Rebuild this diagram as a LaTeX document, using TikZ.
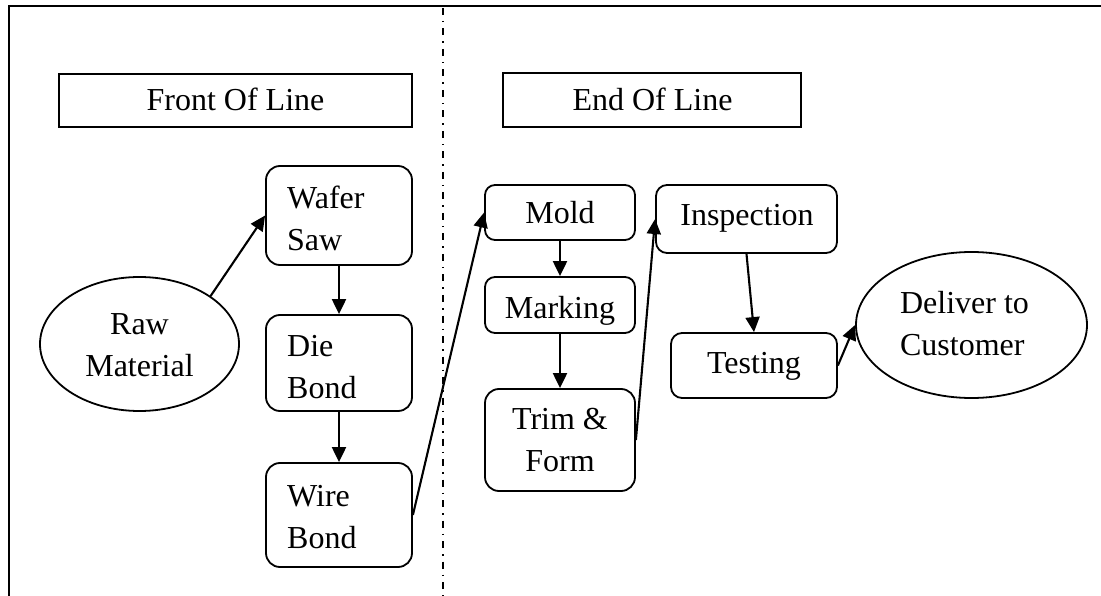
\documentclass[tikz,border=0pt]{standalone}
\usepackage{fontspec}
\setmainfont{Liberation Serif}
\usetikzlibrary{arrows.meta,shapes.geometric}
\begin{document}
\begin{tikzpicture}[x=1pt,y=-1pt,
  lbl/.style={font=\fontsize{32}{42}\selectfont, inner sep=0pt},
  titlebox/.style={draw, line width=1.8pt, inner sep=0pt},
  stepbox/.style={draw, line width=1.8pt, rounded corners=#1, inner sep=0pt},
  stepbox/.default=11pt,
  oval/.style={draw, ellipse, line width=1.8pt, inner sep=0pt},
  flow/.style={line width=2.1pt, -{Triangle[length=15pt,width=14pt]}},
  frame/.style={line width=2.6pt},
  divider/.style={line width=1.5pt, dash pattern=on 7pt off 6pt on 1.5pt off 6pt},
]
\useasboundingbox (0,0) rectangle (1101,596);

% frame and divider
\draw[frame] (9,596) -- (9,6) -- (1101,6);
\draw[divider] (443,8) -- (443,596);

% section titles
\node[titlebox, minimum width=353pt, minimum height=53pt] (fol) at (235.5,100.5) {};
\node[lbl] (folt) at (235.5,102.6) {\strut Front Of Line};
\node[titlebox, minimum width=298pt, minimum height=54pt] (eol) at (652,100) {};
\node[lbl] (eolt) at (652.5,102.6) {\strut End Of Line};

% front of line
\node[oval, minimum width=199pt, minimum height=134pt] (raw) at (139.5,344) {};
\node[lbl, align=center] (rawt) at (139.5,346.6) {\strut Raw\\\strut Material};

\node[stepbox=14pt, minimum width=146pt, minimum height=99pt] (wafer) at (339,215.5) {};
\node[lbl, align=left, anchor=west] (wafert) at (287,221) {\strut Wafer\\\strut Saw};

\node[stepbox=14pt, minimum width=146pt, minimum height=96pt] (die) at (339,363) {};
\node[lbl, align=left, anchor=west] (diet) at (287,369.5) {\strut Die\\\strut Bond};

\node[stepbox=14pt, minimum width=146pt, minimum height=104pt] (wire) at (339,515) {};
\node[lbl, align=left, anchor=west] (wiret) at (287,518.6) {\strut Wire\\\strut Bond};

% end of line
\node[stepbox=10pt, minimum width=150pt, minimum height=55pt] (mold) at (560,212.5) {};
\node[lbl] (moldt) at (560,215.6) {\strut Mold};

\node[stepbox=10pt, minimum width=150pt, minimum height=56pt] (mark) at (560,305) {};
\node[lbl] (markt) at (560,309.6) {\strut Marking};

\node[stepbox=14pt, minimum width=150pt, minimum height=102pt] (trim) at (560,440) {};
\node[lbl, align=center] (trimt) at (560,441.6) {\strut Trim \&\\\strut Form};

\node[stepbox=11pt, minimum width=181pt, minimum height=68pt] (insp) at (746.5,219) {};
\node[lbl] (inspt) at (747,217.6) {\strut Inspection};

\node[stepbox=11pt, minimum width=166pt, minimum height=65pt] (test) at (754,365.5) {};
\node[lbl] (testt) at (754,364.6) {\strut Testing};

\node[oval, minimum width=231pt, minimum height=146pt] (deliver) at (971.5,325) {};
\node[lbl, align=left] (delivert) at (964.5,326.5) {\strut Deliver to\\\strut Customer};

% connectors
\draw[flow] (raw.34) -- (wafer.west);
\draw[flow] (wafer.south) -- (die.north);
\draw[flow] (die.south) -- (wire.north);
\draw[flow] (wire.east) -- (mold.west);
\draw[flow] (mold.south) -- (mark.north);
\draw[flow] (mark.south) -- (trim.north);
\draw[flow] (trim.east) -- (insp.west);
\draw[flow] (insp.south) -- (test.north);
\draw[flow] (test.east) -- (deliver.west);
\end{tikzpicture}
\end{document}
